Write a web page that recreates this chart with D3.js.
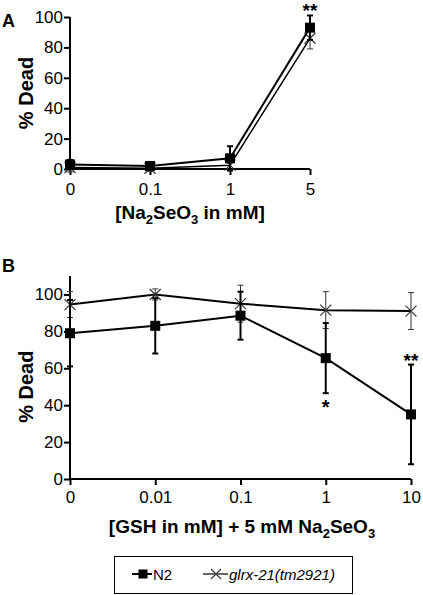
<!DOCTYPE html>
<html><head><meta charset="utf-8">
<script src="https://cdn.jsdelivr.net/npm/d3@7"></script>
<style>body{margin:0;background:#fff}svg{display:block;font-family:"Liberation Sans",Arial,sans-serif}</style>
</head><body>
<script>
// Panel A data
const catsA = ["0","0.1","1","5"];
const n2A = [3, 2, 7, 93];
const n2AErr = [3, 2, 8, 8];
const glA = [1, 0.5, 2.5, 86];
const glAErr = [3, 2, 3, 7];
const sigA = ["", "", "", "**"];
// Panel B data
const catsB = ["0","0.01","0.1","1","10"];
const n2B = [79, 83, 88.5, 65.5, 35];
const n2BErr = [18, 15, 13, 19, 27];
const glB = [94.5, 100, 95, 91.5, 91];
const glBErr = [7, 3, 10, 10, 10];
const sigBAbove = ["", "", "", "", "**"];
const sigBBelow = ["", "", "", "*", ""];
const yTicks = [0, 20, 40, 60, 80, 100];
const seriesNames = ["N2", "glrx-21(tm2921)"];

const W = 423, H = 595;
const FF = "Liberation Sans, Arial, sans-serif";
const svg = d3.select("body").append("svg").attr("width", W).attr("height", H);

function square(g, x, y, s) {
  g.append("rect").attr("x", x - s/2).attr("y", y - s/2).attr("width", s).attr("height", s).attr("fill", "#000");
}
function cross(g, x, y, s, sw) {
  g.append("path").attr("d", `M${x-s/2},${y-s/2}L${x+s/2},${y+s/2}M${x-s/2},${y+s/2}L${x+s/2},${y-s/2}`)
    .attr("stroke", "#333").attr("stroke-width", sw).attr("fill", "none");
}
function errBar(g, x, y0, y1, sw, cap, color) {
  g.append("line").attr("x1", x).attr("x2", x).attr("y1", y0).attr("y2", y1).attr("stroke", color).attr("stroke-width", sw);
  [y0, y1].forEach(yy => g.append("line").attr("x1", x - cap).attr("x2", x + cap).attr("y1", yy).attr("y2", yy).attr("stroke", color).attr("stroke-width", sw));
}

function panel(cfg) {
  const g = svg.append("g");
  const x = d3.scalePoint().domain(cfg.cats).range([cfg.x0, cfg.x1]);
  const y = d3.scaleLinear().domain([0, cfg.ymax]).range([cfg.yb, cfg.yt]);
  const ya = g.append("g").attr("transform", `translate(${cfg.x0},0)`)
    .call(d3.axisLeft(y).tickValues(yTicks).tickSize(6).tickSizeOuter(0));
  ya.select(".domain").attr("stroke-width", 2).attr("d", `M0,${y(cfg.ymax)}V${y(0)}`);
  ya.selectAll(".tick line").attr("stroke-width", 2);
  ya.selectAll(".tick text").attr("font-size", 17).attr("fill", "#000").attr("x", -7).attr("font-family", FF);
  const xa = g.append("g").attr("transform", `translate(0,${y(0)})`)
    .call(d3.axisBottom(x).tickSize(6).tickSizeOuter(0));
  xa.select(".domain").attr("stroke-width", 2).attr("d", `M${cfg.x0},0H${cfg.x1}`);
  xa.selectAll(".tick line").attr("stroke-width", 2);
  xa.selectAll(".tick text").attr("font-size", 17).attr("fill", "#000").attr("y", cfg.tickY).attr("font-family", FF);

  const line = d3.line().x((d, i) => x(cfg.cats[i])).y(d => y(d));
  g.append("path").datum(cfg.gl).attr("d", line).attr("fill", "none").attr("stroke", "#000").attr("stroke-width", cfg.glW);
  cfg.gl.forEach((v, i) => errBar(g, x(cfg.cats[i]), y(v - cfg.glErr[i]), y(v + cfg.glErr[i]), 1, 3, "#333"));
  cfg.gl.forEach((v, i) => cross(g, x(cfg.cats[i]), y(v), 11, 1.2));
  g.append("path").datum(cfg.n2).attr("d", line).attr("fill", "none").attr("stroke", "#000").attr("stroke-width", 2);
  cfg.n2.forEach((v, i) => errBar(g, x(cfg.cats[i]), y(v - cfg.n2Err[i]), y(v + cfg.n2Err[i]), 2, 3, "#000"));
  cfg.n2.forEach((v, i) => square(g, x(cfg.cats[i]), y(v), 10));
  cfg.sigAbove.forEach((s, i) => { if (s) g.append("text").attr("x", x(cfg.cats[i])).attr("y", y(cfg.n2[i] + cfg.n2Err[i]) + 2)
      .attr("text-anchor", "middle").attr("font-size", 19).attr("font-weight", "bold").text(s); });
  (cfg.sigBelow || []).forEach((s, i) => { if (s) g.append("text").attr("x", x(cfg.cats[i])).attr("y", y(cfg.n2[i] - cfg.n2Err[i]) + 21)
      .attr("text-anchor", "middle").attr("font-size", 20).attr("font-weight", "bold").text(s); });
  g.append("text").attr("x", 2).attr("y", cfg.labelY).attr("font-size", 18).attr("font-weight", "bold").text(cfg.label);
  g.append("text").attr("transform", `translate(33,${(y(0) + y(100)) / 2}) rotate(-90)`).attr("text-anchor", "middle")
    .attr("font-size", 20).attr("font-weight", "bold").text("% Dead");
  return g;
}

panel({cats: catsA, x0: 70, x1: 310, yb: 169, yt: 17, ymax: 100, n2: n2A, n2Err: n2AErr, gl: glA, glErr: glAErr,
  sigAbove: sigA, label: "A", labelY: 27, glW: 1.5, tickY: 14});
panel({cats: catsB, x0: 70, x1: 411, yb: 479, yt: 276, ymax: 110, n2: n2B, n2Err: n2BErr, gl: glB, glErr: glBErr,
  sigAbove: sigBAbove, sigBelow: sigBBelow, label: "B", labelY: 272, glW: 2, tickY: 12});

function subTitle(x, y, parts) {
  const t = svg.append("text").attr("x", x).attr("y", y).attr("text-anchor", "middle").attr("font-size", 19).attr("font-weight", "bold");
  parts.forEach(p => {
    if (p.sub) { t.append("tspan").attr("font-size", 13).attr("dy", 5).text(p.t); }
    else { t.append("tspan").attr("dy", p.after ? -5 : 0).text(p.t); }
  });
}
subTitle(190, 219, [{t: "[Na"}, {t: "2", sub: true}, {t: "SeO", after: true}, {t: "3", sub: true}, {t: " in mM]", after: true}]);
subTitle(242, 533, [{t: "[GSH in mM] + 5 mM Na"}, {t: "2", sub: true}, {t: "SeO", after: true}, {t: "3", sub: true}]);

const lg = svg.append("g");
lg.append("rect").attr("x", 114.5).attr("y", 556.5).attr("width", 238).attr("height", 37).attr("fill", "none").attr("stroke", "#000").attr("stroke-width", 1);
lg.append("line").attr("x1", 132).attr("x2", 152).attr("y1", 574).attr("y2", 574).attr("stroke", "#000").attr("stroke-width", 2);
square(lg, 143, 574, 9);
lg.append("text").attr("x", 153).attr("y", 580).attr("font-size", 15).text(seriesNames[0]);
lg.append("line").attr("x1", 203).attr("x2", 228).attr("y1", 574).attr("y2", 574).attr("stroke", "#000").attr("stroke-width", 1.2);
cross(lg, 216, 574, 10, 1.1);
lg.append("text").attr("x", 229).attr("y", 580).attr("font-size", 15).attr("font-style", "italic").text(seriesNames[1]);
</script>
</body></html>
